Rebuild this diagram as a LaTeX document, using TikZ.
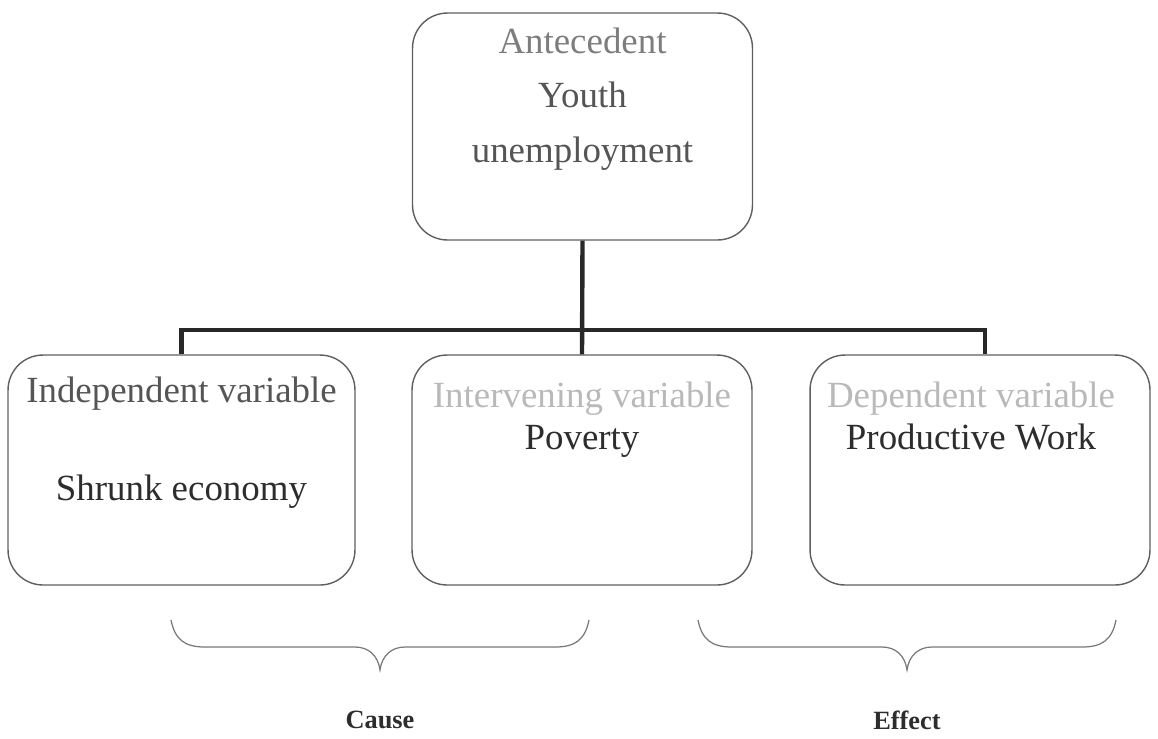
\documentclass[tikz,border=0pt]{standalone}
\usepackage{fontspec}
\setmainfont{Liberation Serif}
\usetikzlibrary{positioning}

\definecolor{boxline}{RGB}{95,95,95}
\definecolor{treeline}{RGB}{40,40,40}
\definecolor{braceline}{RGB}{120,120,120}
\definecolor{titlegray}{RGB}{125,125,125}
\definecolor{midgray}{RGB}{85,85,85}
\definecolor{palegray}{RGB}{185,185,185}
\definecolor{darktext}{RGB}{45,45,45}

\tikzset{
  box/.style={draw=boxline, line width=0.8pt, rounded corners=0.7cm,
    minimum width=6.8cm, minimum height=4.6cm},
  boxtext/.style={anchor=north, align=center, inner sep=0pt,
    font=\fontsize{21}{31}\selectfont},
  tree/.style={draw=treeline, line width=2.5pt},
  brace/.style={draw=braceline, line width=0.7pt},
  tag/.style={font=\fontsize{15}{18}\selectfont\bfseries, text=darktext}
}

\begin{document}
\begin{tikzpicture}[x=0.02cm, y=-0.02cm]
  \useasboundingbox (0,0) rectangle (1158,738);

  % Cadres
  \node[box, minimum height=4.54cm] (antecedent) at (582.5,126.5) {};
  \node[box, minimum width=6.94cm] (independent) at (181.5,470) {};
  \node[box] (intervening) at (582,470) {};
  \node[box] (dependent) at (980,470) {};

  % Textes
  \node[boxtext] (antecedentText) at ([yshift=-0.3cm]antecedent.north)
  {\textcolor{titlegray}{Antecedent}\\
    \textcolor{midgray}{Youth}\\
    \textcolor{midgray}{unemployment}};
  \node[boxtext] (independentText) at ([yshift=-0.44cm]independent.north)
  {\textcolor{midgray}{Independent variable}\\[25pt]
    \textcolor{darktext}{Shrunk economy}};
  \node[boxtext] (interveningText) at ([yshift=-0.54cm]intervening.north)
  {\textcolor{palegray}{Intervening variable}\\[-7pt]
    \textcolor{darktext}{Poverty}};
  \node[boxtext] (dependentText) at ([xshift=-0.18cm, yshift=-0.54cm]dependent.north)
  {\textcolor{palegray}{Dependent variable}\\[-7pt]
    \textcolor{darktext}{Productive Work}};

  % Arbre
  \coordinate (junction) at (582.5,330);
  \draw[tree] (antecedent.south) -- (intervening.north);
  \draw[tree] (independent.north) -- (independent.north |- junction)
    -- ([xshift=0.1cm]dependent.north |- junction)
    -- ([xshift=0.1cm]dependent.north);

  % Accolades
  \foreach \cx/\tagname/\tagtext in {380/cause/Cause, 907/effect/Effect} {
    \draw[brace] (\cx-209,620) .. controls (\cx-205,640) and (\cx-195,647) .. (\cx-175,647)
      -- (\cx-25,647) .. controls (\cx-12,647) and (\cx-2,655) .. (\cx,670)
      .. controls (\cx+2,655) and (\cx+12,647) .. (\cx+25,647)
      -- (\cx+175,647) .. controls (\cx+195,647) and (\cx+205,640) .. (\cx+209,620);
    \node[tag] (\tagname) at (\cx,720) {\tagtext};
  }
\end{tikzpicture}
\end{document}
